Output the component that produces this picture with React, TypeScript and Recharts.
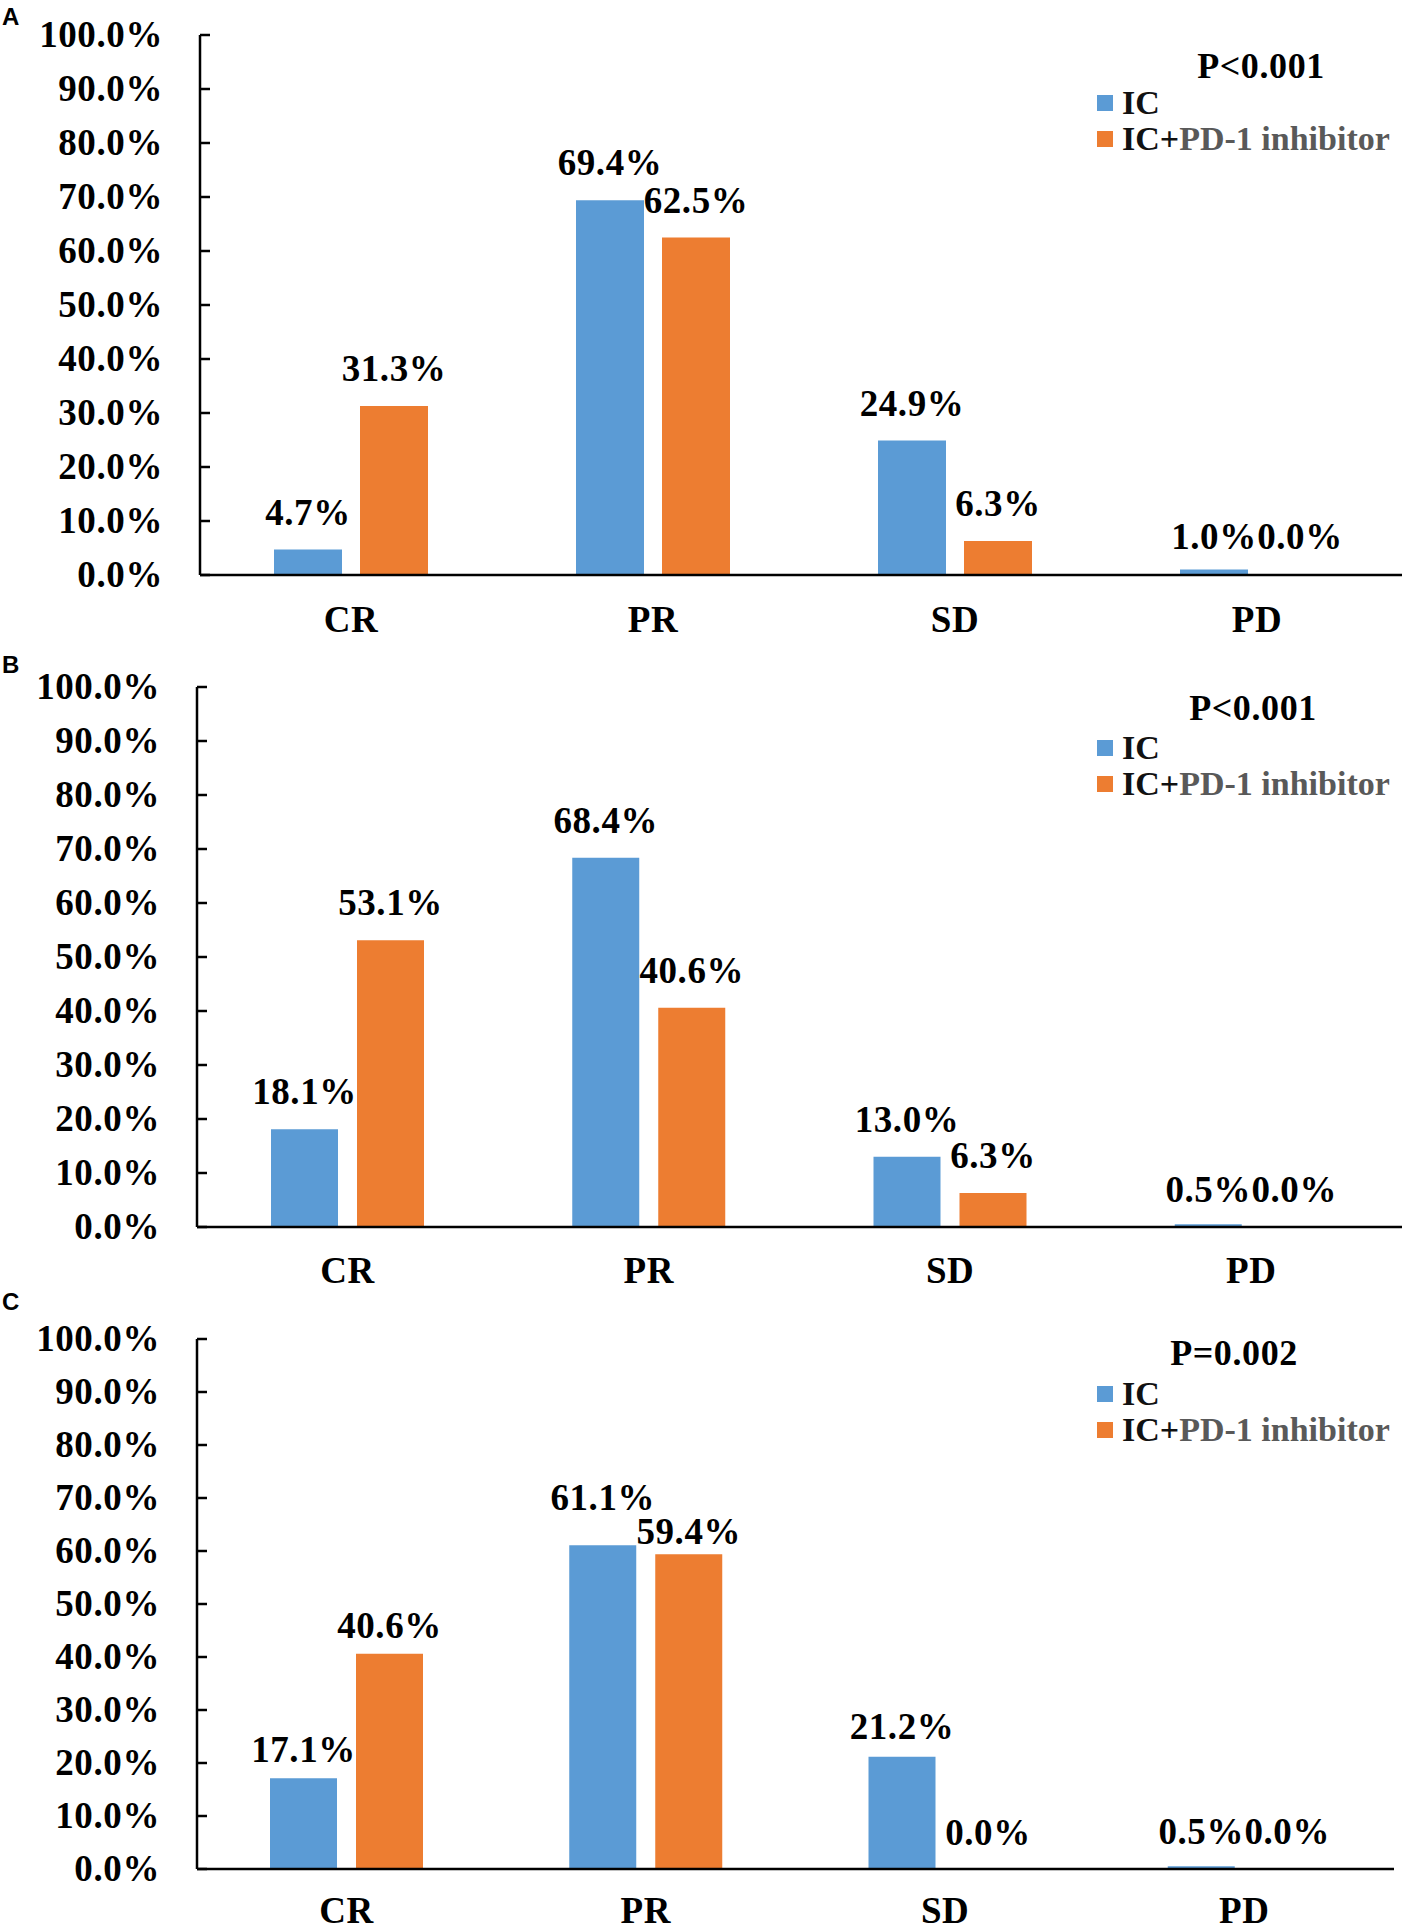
import React from 'react';
import { BarChart, Bar, XAxis, YAxis, LabelList, Legend } from 'recharts';

// ---------- data ----------
const categories = ['CR', 'PR', 'SD', 'PD'];
const yTicks = [0, 10, 20, 30, 40, 50, 60, 70, 80, 90, 100];
const seriesNames = ['IC', 'IC+PD-1 inhibitor'];

const icA = [4.7, 69.4, 24.9, 1.0];
const comboA = [31.3, 62.5, 6.3, 0.0];
const icB = [18.1, 68.4, 13.0, 0.5];
const comboB = [53.1, 40.6, 6.3, 0.0];
const icC = [17.1, 61.1, 21.2, 0.5];
const comboC = [40.6, 59.4, 0.0, 0.0];

const panelLetters = ['A', 'B', 'C'];
const pValues = ['P<0.001', 'P<0.001', 'P=0.002'];

// ---------- styles ----------
const BLUE = '#5B9BD5';
const ORANGE = '#ED7D31';
const SERIF = "'Liberation Serif', 'Times New Roman', serif";
const SANS = "'Liberation Sans', Arial, sans-serif";
const TXT = { fontFamily: SERIF, fontWeight: 700, fontSize: 37, letterSpacing: 0.6 };

const buildRows = (ic: number[], combo: number[]) =>
  categories.map((c, i) => ({ cat: c, ic: ic[i], combo: combo[i] }));

const panels = [
  {
    rows: buildRows(icA, comboA), letter: panelLetters[0], p: pValues[0],
    plotTop: 35, plotBottom: 575, plotLeft: 200, plotRight: 1408,
    barSize: 68, barGap: 18, labelOffset: 25, icNudge: [0, 0, 0, 4], comboNudge: [0, 0, 0, -1],
    pX: 1261, pDy: 43, letterY: 25, legendY: 85, xLabelDy: 57,
  },
  {
    rows: buildRows(icB, comboB), letter: panelLetters[1], p: pValues[1],
    plotTop: 687, plotBottom: 1227, plotLeft: 197, plotRight: 1402,
    barSize: 67, barGap: 19, labelOffset: 25, icNudge: [0, 0, 0, 3], comboNudge: [0, 0, 0, 0],
    pX: 1253, pDy: 33, letterY: 673, legendY: 730, xLabelDy: 56,
  },
  {
    rows: buildRows(icC, comboC), letter: panelLetters[2], p: pValues[2],
    plotTop: 1339, plotBottom: 1869, plotLeft: 197, plotRight: 1394,
    barSize: 67, barGap: 19, labelOffset: 18, icNudge: [2, -17, 0, -4], comboNudge: [2, 8, -6, -7],
    pX: 1234, pDy: 26, letterY: 1310, legendY: 1376, xLabelDy: 54,
  },
];

const fmt = (v: number) => `${Number(v).toFixed(1)}%`;

const YTick = (props: any) => {
  const { x, y, payload } = props;
  return (
    <g>
      <text x={x - 37} y={y} dy={12} textAnchor="end" fill="#000" style={TXT}>
        {fmt(payload.value)}
      </text>
      <line x1={x} x2={x + 10} y1={y} y2={y} stroke="#000" strokeWidth={2.5} />
    </g>
  );
};

const makeXTick = (dy: number) => (props: any) => {
  const { x, y, payload } = props;
  return (
    <text x={x} y={y + dy} textAnchor="middle" fill="#000" style={TXT}>
      {payload.value}
    </text>
  );
};

const makeLabel = (offset: number, nudge: number[]) => (props: any) => {
  const { x, y, width, value, index } = props;
  return (
    <text x={Number(x) + Number(width) / 2} y={Number(y) - offset + (nudge[index] || 0)} textAnchor="middle" fill="#000" style={TXT}>
      {fmt(value)}
    </text>
  );
};

const LegendContent = (props: any) => {
  const { payload } = props;
  return (
    <div style={{ fontFamily: SERIF, fontWeight: 700, fontSize: 34, lineHeight: '36px' }}>
      {(payload || []).map((e: any, i: number) => {
        const name: string = e.value;
        const parts = name.split('+');
        return (
          <div key={i} style={{ display: 'flex', alignItems: 'center', whiteSpace: 'nowrap' }}>
            <span style={{ display: 'inline-block', width: 16, height: 16, background: e.color, marginRight: 9 }} />
            {parts.length > 1 ? (
              <span>
                <span style={{ color: '#111' }}>{parts[0]}+</span>
                <span style={{ color: '#595959' }}>{parts.slice(1).join('+')}</span>
              </span>
            ) : (
              <span style={{ color: '#111' }}>{name}</span>
            )}
          </div>
        );
      })}
    </div>
  );
};

const Panel = ({ cfg }: { cfg: any }) => {
  const marginTop = 30;
  const xAxisH = 80;
  const chartTop = cfg.plotTop - marginTop;
  const height = cfg.plotBottom - cfg.plotTop + marginTop + xAxisH;
  const XTick = makeXTick(cfg.xLabelDy);
  return (
    <div style={{ position: 'absolute', left: 0, top: chartTop }}>
      <BarChart width={cfg.plotRight} height={height} data={cfg.rows}
        margin={{ top: marginTop, right: 0, bottom: 0, left: 0 }} barGap={cfg.barGap}>
        <XAxis dataKey="cat" interval={0} tickSize={0} tickMargin={0} tickLine={false}
          axisLine={{ stroke: '#000', strokeWidth: 2.5 }} height={xAxisH} tick={<XTick />} />
        <YAxis domain={[0, 100]} ticks={yTicks} interval={0} width={cfg.plotLeft}
          tickSize={0} tickMargin={0} tickLine={false}
          axisLine={{ stroke: '#000', strokeWidth: 2.5 }} tick={<YTick />} />
        <Legend layout="horizontal" verticalAlign="middle" align="center"
          content={<LegendContent />}
          wrapperStyle={{ position: 'absolute', left: 1097, top: cfg.legendY - chartTop, width: 'auto', height: 'auto' }} />
        <Bar dataKey="ic" name={seriesNames[0]} fill={BLUE} barSize={cfg.barSize} minPointSize={0.01} isAnimationActive={false}>
          <LabelList dataKey="ic" content={makeLabel(cfg.labelOffset, cfg.icNudge)} />
        </Bar>
        <Bar dataKey="combo" name={seriesNames[1]} fill={ORANGE} barSize={cfg.barSize} minPointSize={0.01} isAnimationActive={false}>
          <LabelList dataKey="combo" content={makeLabel(cfg.labelOffset, cfg.comboNudge)} />
        </Bar>
      </BarChart>
    </div>
  );
};

export default function App() {
  return (
    <div style={{ position: 'absolute', left: 0, top: 0, width: 1402, height: 1931, overflow: 'hidden', background: '#fff' }}>
      {panels.map((cfg, i) => <Panel key={i} cfg={cfg} />)}
      <svg width={1402} height={1931} style={{ position: 'absolute', left: 0, top: 0, pointerEvents: 'none' }}>
        {panels.map((cfg, i) => (
          <g key={i}>
            <text x={2} y={cfg.letterY} fill="#000" style={{ fontFamily: SANS, fontWeight: 700, fontSize: 24 }}>{cfg.letter}</text>
            <text x={cfg.pX} y={cfg.plotTop + cfg.pDy} textAnchor="middle" fill="#000"
              style={{ fontFamily: SERIF, fontWeight: 700, fontSize: 36, letterSpacing: 0.6 }}>{cfg.p}</text>
          </g>
        ))}
      </svg>
    </div>
  );
}
